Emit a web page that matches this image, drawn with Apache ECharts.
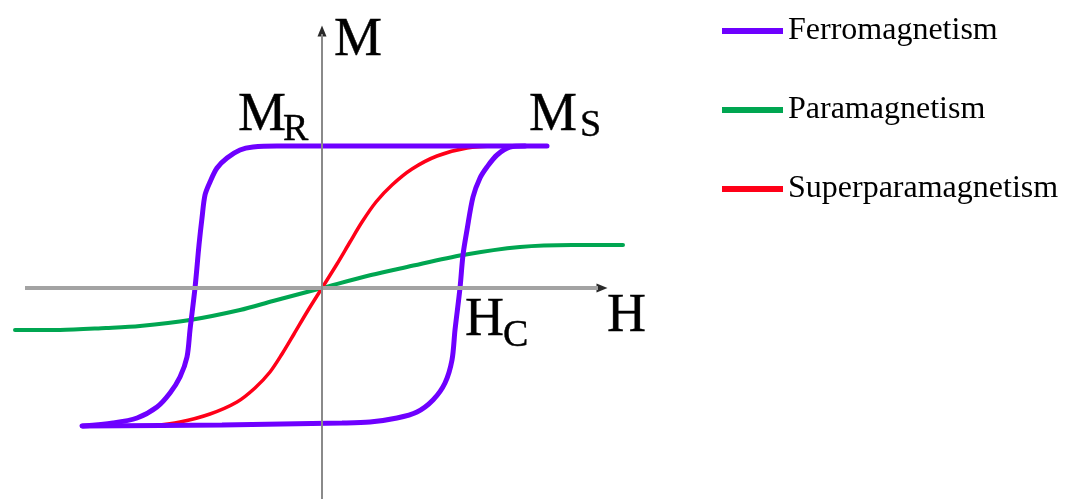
<!DOCTYPE html>
<html>
<head>
<meta charset="utf-8">
<script src="https://cdn.jsdelivr.net/npm/echarts@6/dist/echarts.min.js"></script>
<style>
  html, body { margin: 0; padding: 0; background: #fff; }
  #chart { width: 1066px; height: 499px; }
</style>
</head>
<body>
<div id="chart"></div>
<script>
// H / M values (arbitrary units, origin at the axis crossing)
const ferroDown = [
  [22.5, 14.2], [10.0, 14.2], [-2.0, 14.2], [-4.5, 14.2], [-6.9, 14.1], [-8.2, 13.8],
  [-9.5, 13.0], [-10.5, 12.0], [-11.2, 10.6], [-11.7, 9.3], [-12.0, 7.0], [-12.3, 4.3],
  [-12.7, 0], [-13.2, -4.2], [-13.5, -6.9], [-14.2, -8.9], [-15.2, -10.5], [-16.5, -11.9],
  [-18.5, -13.0], [-20.9, -13.5], [-23.9, -13.8]
]
const ferroUp = [
  [-24.0, -13.8], [-10.0, -13.7], [2.0, -13.5], [4.8, -13.4], [7.5, -13.0], [9.5, -12.4],
  [11.1, -11.2], [12.3, -9.5], [13.0, -7.2], [13.3, -4.2], [13.8, 0], [14.1, 3.3],
  [14.5, 5.8], [15.1, 9.1], [15.8, 11.0], [16.5, 12.1], [17.5, 13.3], [18.8, 14.1], [20.3, 14.2]
]
const superPara = [
  [-17.2, -13.8], [-14.2, -13.4], [-11.2, -12.6], [-8.5, -11.4], [-6.7, -10.0], [-5.2, -8.4],
  [-4.0, -6.6], [-2.8, -4.6], [-1.5, -2.4], [0, 0], [1.5, 2.4], [2.8, 4.6], [4.0, 6.6],
  [5.4, 8.6], [7.0, 10.3], [9.0, 11.9], [11.5, 13.2], [14.5, 14.0], [17.5, 14.2]
]
const para = [
  [-30.7, -4.2], [-26.2, -4.2], [-21.6, -4.0], [-18.2, -3.8], [-13.2, -3.2], [-8.2, -2.2],
  [-4.9, -1.3], [0, 0], [4.9, 1.3], [8.5, 2.1], [14.1, 3.3], [19.8, 4.1], [25.0, 4.3], [30.1, 4.3]
]
const seriesNames = ['Ferromagnetism', 'Paramagnetism', 'Superparamagnetism']
const colors = ['#6e00ff', '#00a651', '#ff0018']

// drawn axis extents (H from..to, M from..to) and arrow heads at their ends
const hAxisExtent = [-29.7, 27.6]
const mAxisExtent = [-21.1, 25.4]
const arrowHeads = [[28.0, 0], [0, 25.7]]

// annotation text: [text, H, M]  (anchored at left edge / middle of capitals)
const mainLabels = [['M', 1.2, 24.7], ['M', -8.4, 17.2], ['M', 20.7, 17.2], ['H', 14.3, -3.3], ['H', 28.5, -2.9]]
const subLabels = [['R', -3.9, 15.8], ['S', 25.8, 16.2], ['C', 18.1, -4.8]]

const chart = echarts.init(document.getElementById('chart'))
const serif = 'Liberation Serif'

const lineSeries = (name, data, color, width) => ({
  name: name,
  type: 'line',
  data: data,
  showSymbol: false,
  smooth: 0.3,
  lineStyle: { color: color, width: width, cap: 'round' },
  itemStyle: { color: color }
})

const labelSeries = (list, size) => ({
  type: 'scatter',
  data: list.map(d => ({ value: [d[1], d[2]], name: d[0] })),
  symbolSize: 0,
  silent: true,
  clip: false,
  itemStyle: { opacity: 1 },
  label: {
    show: true,
    position: 'right',
    distance: 0,
    formatter: p => p.name,
    fontFamily: serif,
    fontSize: size,
    color: '#000',
    opacity: 1,
    textBorderColor: '#000',
    textBorderWidth: 0.4
  }
})

const option = {
  animation: false,
  backgroundColor: '#fff',
  grid: { left: 12, right: 434, top: 28, bottom: 0 },
  legend: {
    data: seriesNames,
    orient: 'vertical',
    left: 722,
    top: 15,
    padding: 0,
    itemGap: 47,
    itemWidth: 61,
    itemHeight: 6,
    icon: 'rect',
    textStyle: { fontFamily: serif, fontSize: 32, color: '#000' }
  },
  xAxis: {
    type: 'value',
    min: -31,
    max: 31,
    axisLine: { show: false },
    axisTick: { show: false },
    axisLabel: { show: false },
    splitLine: { show: false }
  },
  yAxis: {
    type: 'value',
    min: -21.1,
    max: 26,
    axisLine: { show: false },
    axisTick: { show: false },
    axisLabel: { show: false },
    splitLine: { show: false }
  },
  series: [
    {
      type: 'line',
      data: [],
      silent: true,
      markLine: {
        silent: true,
        symbol: 'none',
        label: { show: false },
        emphasis: { disabled: true },
        data: [
          [{ coord: [hAxisExtent[0], 0], lineStyle: { color: '#a3a3a3', width: 4, type: 'solid' } }, { coord: [hAxisExtent[1], 0] }],
          [{ coord: [0, mAxisExtent[0]], lineStyle: { color: '#8a8a8a', width: 2, type: 'solid' } }, { coord: [0, mAxisExtent[1]] }]
        ]
      }
    },
    {
      type: 'scatter',
      silent: true,
      clip: false,
      symbol: 'triangle',
      symbolSize: [9, 11],
      itemStyle: { color: '#2a2a2a', opacity: 1 },
      data: arrowHeads.map((d, i) => ({ value: d, symbolRotate: i === 0 ? -90 : 0 }))
    },
    lineSeries(seriesNames[1], para, colors[1], 4),
    lineSeries(seriesNames[2], superPara, colors[2], 3.5),
    lineSeries(seriesNames[0], ferroDown, colors[0], 5),
    lineSeries(seriesNames[0], ferroUp, colors[0], 5),
    labelSeries(mainLabels, 54),
    labelSeries(subLabels, 38)
  ]
}
chart.setOption(option)
</script>
</body>
</html>
